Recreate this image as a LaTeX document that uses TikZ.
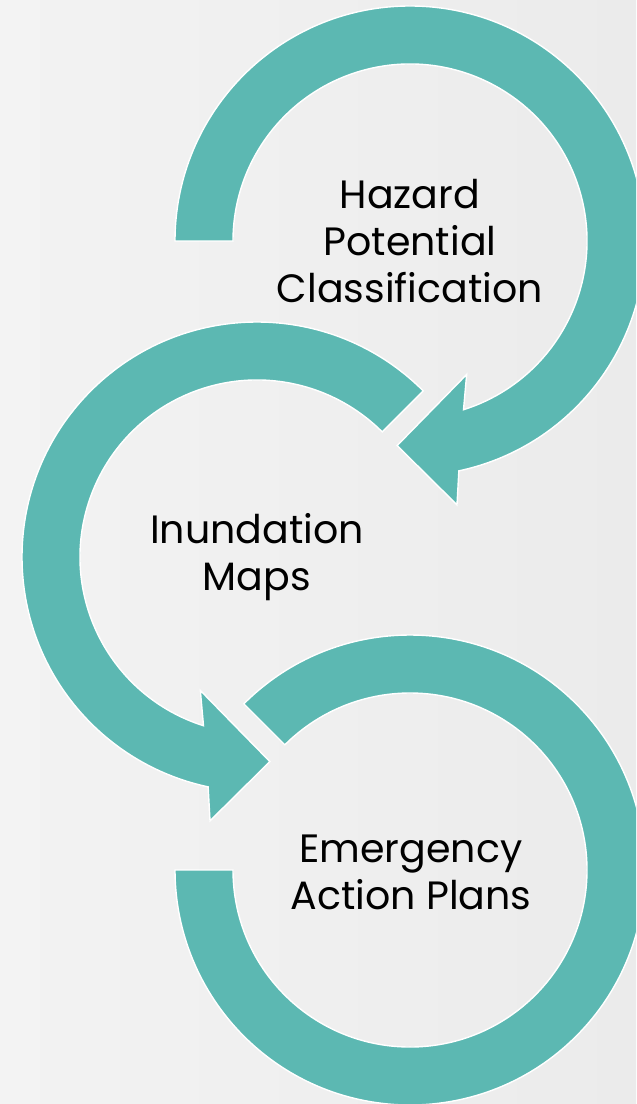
\documentclass[tikz,border=0pt]{standalone}
\usepackage{fontspec}
\setmainfont{Poppins}
\usepackage{xcolor}
\usepackage{tikz}
\definecolor{ringteal}{HTML}{5CB8B2}
\definecolor{bgleft}{HTML}{F3F3F3}
\definecolor{bgright}{HTML}{EBEBEB}
\tikzset{
  ring/.style={fill=ringteal, draw=white, line width=0.8pt, line join=miter},
  steptext/.style={align=center, text=black, inner sep=0pt,
    font=\fontsize{22.5}{26.7}\selectfont}
}

\begin{document}
\begin{tikzpicture}[x=0.02cm,y=-0.02cm]
\useasboundingbox (0,0) rectangle (636,1104);
\clip (0,0) rectangle (636,1104);
\shade[left color=bgleft, right color=bgright] (0,0) rectangle (636,1104);
% first ring, clockwise, head at lower right
\begin{scope}[shift={(410,241)}]
\draw[ring] (180:177) -- (180:235) arc[start angle=180, end angle=438, radius=235]
  -- (439.9:268) -- (453.6:205) -- (427:145) -- (432.4:177)
  arc[start angle=432.4, end angle=180, radius=177] -- cycle;
\end{scope}
% second ring, anticlockwise, head at lower right
\begin{scope}[shift={(257,557)}]
\draw[ring] (-45:177) -- (-45:235) arc[start angle=-45, end angle=-258, radius=235]
  -- (-259.9:268) -- (-273.6:205) -- (-247:145) -- (-252.4:177)
  arc[start angle=-252.4, end angle=-45, radius=177] -- cycle;
\end{scope}
% third ring, no head
\begin{scope}[shift={(410,870)}]
\draw[ring] (225:177) -- (225:235) arc[start angle=225, end angle=540, radius=235]
  -- (540:177) arc[start angle=540, end angle=225, radius=177] -- cycle;
\end{scope}
\node[steptext] at (410,241) (hazard) {Hazard\\Potential\\Classification};
\node[steptext] at (257,557) (inundation) {Inundation\\Maps};
\node[steptext] at (411,872) (eap) {Emergency\\Action Plans};
\end{tikzpicture}
\end{document}
